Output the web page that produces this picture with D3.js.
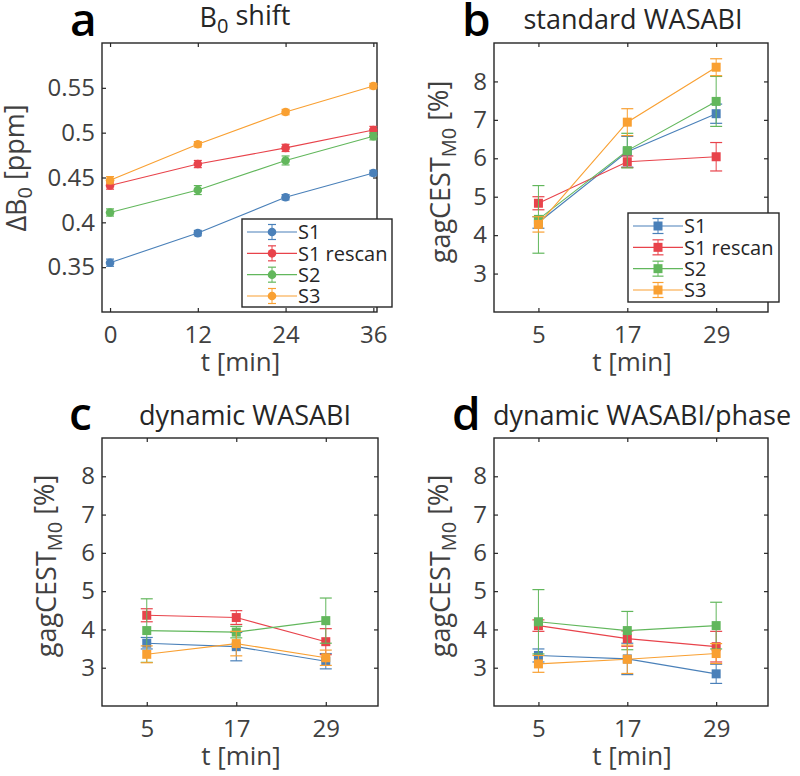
<!DOCTYPE html>
<html>
<head>
<meta charset="utf-8">
<script src="https://cdn.jsdelivr.net/npm/d3@7"></script>
<style>
body { margin: 0; background: #fff; }
text { font-family: 'Open Sans', sans-serif; }
</style>
</head>
<body>
<div class="main"></div>
<script>
var seriesNames = ['S1', 'S1 rescan', 'S2', 'S3'];
var seriesColors = ['#4a80b9', '#e8434b', '#62b75c', '#f9a032'];

// a: B0 shift
var b0Times = [0, 12, 24, 36];
var b0Ticks = ['0.35', '0.4', '0.45', '0.5', '0.55'];
var b0S1 = [0.355, 0.388, 0.428, 0.455];
var b0S1Err = [0.004, 0.003, 0.003, 0.003];
var b0Rescan = [0.441, 0.465, 0.483, 0.503];
var b0RescanErr = [0.004, 0.004, 0.004, 0.004];
var b0S2 = [0.411, 0.436, 0.469, 0.496];
var b0S2Err = [0.004, 0.005, 0.005, 0.004];
var b0S3 = [0.447, 0.487, 0.523, 0.552];
var b0S3Err = [0.004, 0.003, 0.003, 0.003];

// b, c, d: gagCEST
var cestTimes = [5, 17, 29];
var cestTicks = [3, 4, 5, 6, 7, 8];

var stdS1 = [4.33, 6.17, 7.16];
var stdS1Err = [0.15, 0.4, 0.25];
var stdRescan = [4.83, 5.91, 6.04];
var stdRescanErr = [0.17, 0.15, 0.37];
var stdS2 = [4.41, 6.2, 7.48];
var stdS2Err = [0.88, 0.45, 0.65];
var stdS3 = [4.28, 6.94, 8.37];
var stdS3Err = [0.2, 0.35, 0.22];

var dynS1 = [3.64, 3.55, 3.17];
var dynS1Err = [0.15, 0.37, 0.2];
var dynRescan = [4.37, 4.31, 3.68];
var dynRescanErr = [0.17, 0.18, 0.34];
var dynS2 = [3.97, 3.93, 4.23];
var dynS2Err = [0.83, 0.15, 0.59];
var dynS3 = [3.35, 3.63, 3.26];
var dynS3Err = [0.22, 0.32, 0.2];

var phS1 = [3.32, 3.23, 2.84];
var phS1Err = [0.17, 0.41, 0.25];
var phRescan = [4.1, 3.76, 3.55];
var phRescanErr = [0.15, 0.2, 0.4];
var phS2 = [4.2, 3.97, 4.1];
var phS2Err = [0.84, 0.5, 0.61];
var phS3 = [3.1, 3.22, 3.37];
var phS3Err = [0.22, 0.37, 0.26];

var svg = d3.select('.main')
    .append('svg')
    .attr('width', 800)
    .attr('height', 776);

svg.append('rect')
    .attr('width', 800)
    .attr('height', 776)
    .style('fill', '#fff');

function makeSeries(times, vals, errs) {
    return vals.map(function (v, i) {
        return times.map(function (t, j) {
            return { t: t, v: v[j], e: errs[i][j] };
        });
    });
}

var panels = [
    {
        letter: 'a', lx: 70, ly: 36,
        title: ['B', '0', ' shift'], tx: 245, ty: 27,
        left: 102, right: 377, top: 43, bottom: 312,
        xDomain: [-1.1, 36.5], yDomain: [0.3, 0.6],
        xTicks: b0Times, yTicks: b0Ticks.map(Number), yFmt: function (d, i) { return b0Ticks[i]; },
        ylab: ['\u0394B', '0', ' [ppm]'], ylabX: 26, ylabY: 168,
        marker: 'circle', cap: 8,
        series: makeSeries(b0Times, [b0S1, b0Rescan, b0S2, b0S3], [b0S1Err, b0RescanErr, b0S2Err, b0S3Err]),
        legend: { x: 242, y: 219, w: 150, h: 88, cap: 8 }
    },
    {
        letter: 'b', lx: 462, ly: 36,
        title: ['standard WASABI'], tx: 633, ty: 29,
        left: 494, right: 768, top: 43, bottom: 312,
        xDomain: [-1, 36], yDomain: [2, 9],
        xTicks: cestTimes, yTicks: cestTicks, yFmt: d3.format('d'),
        ylab: ['gagCEST', 'M0', ' [%]'], ylabX: 450, ylabY: 172,
        marker: 'square', cap: 12,
        series: makeSeries(cestTimes, [stdS1, stdRescan, stdS2, stdS3], [stdS1Err, stdRescanErr, stdS2Err, stdS3Err]),
        legend: { x: 628, y: 213, w: 151, h: 89, cap: 11 }
    },
    {
        letter: 'c', lx: 69, ly: 430,
        title: ['dynamic WASABI'], tx: 245, ty: 425,
        left: 102, right: 378, top: 438, bottom: 706,
        xDomain: [-1, 36], yDomain: [2, 9],
        xTicks: cestTimes, yTicks: cestTicks, yFmt: d3.format('d'),
        ylab: ['gagCEST', 'M0', ' [%]'], ylabX: 56, ylabY: 566,
        marker: 'square', cap: 12,
        series: makeSeries(cestTimes, [dynS1, dynRescan, dynS2, dynS3], [dynS1Err, dynRescanErr, dynS2Err, dynS3Err])
    },
    {
        letter: 'd', lx: 452, ly: 430,
        title: ['dynamic WASABI/phase'], tx: 642, ty: 425,
        left: 494, right: 768, top: 438, bottom: 706,
        xDomain: [-1, 36], yDomain: [2, 9],
        xTicks: cestTimes, yTicks: cestTicks, yFmt: d3.format('d'),
        ylab: ['gagCEST', 'M0', ' [%]'], ylabX: 450, ylabY: 566,
        marker: 'square', cap: 12,
        series: makeSeries(cestTimes, [phS1, phRescan, phS2, phS3], [phS1Err, phRescanErr, phS2Err, phS3Err])
    }
];

function drawMarker(sel, type, cx, cy, color) {
    if (type === 'circle') {
        sel.append('circle')
            .attr('cx', cx).attr('cy', cy).attr('r', 4.3)
            .style('fill', color);
    } else {
        sel.append('rect')
            .attr('x', cx - 4.5).attr('y', cy - 4.5)
            .attr('width', 9).attr('height', 9)
            .style('fill', color);
    }
}

function drawErr(sel, cx, y1, y2, cap, color) {
    sel.append('line')
        .attr('x1', cx).attr('x2', cx).attr('y1', y1).attr('y2', y2)
        .style('stroke', color).style('stroke-width', 1);
    [y1, y2].forEach(function (yy) {
        sel.append('line')
            .attr('x1', cx - cap / 2).attr('x2', cx + cap / 2)
            .attr('y1', yy).attr('y2', yy)
            .style('stroke', color).style('stroke-width', 1.2);
    });
}

function addSub(textSel, parts, subSize) {
    textSel.append('tspan').text(parts[0]);
    if (parts.length > 1) {
        textSel.append('tspan')
            .attr('dy', '0.3em')
            .style('font-size', subSize)
            .text(parts[1]);
        textSel.append('tspan')
            .attr('dy', '-0.3em')
            .text(parts[2]);
    }
}

panels.forEach(function (p) {
    var g = svg.append('g');
    var x = d3.scaleLinear().domain(p.xDomain).range([p.left, p.right]);
    var y = d3.scaleLinear().domain(p.yDomain).range([p.bottom, p.top]);

    // axes (ticks inside, mirrored on top/right)
    var ax = [
        { a: d3.axisBottom(x).tickValues(p.xTicks).tickSize(-4).tickPadding(14), t: [0, p.bottom] },
        { a: d3.axisTop(x).tickValues(p.xTicks).tickSize(-4).tickFormat(''), t: [0, p.top] },
        { a: d3.axisLeft(y).tickValues(p.yTicks).tickSize(-4).tickPadding(7).tickFormat(p.yFmt), t: [p.left, 0] },
        { a: d3.axisRight(y).tickValues(p.yTicks).tickSize(-4).tickFormat(''), t: [p.right, 0] }
    ];
    ax.forEach(function (o) {
        var ag = g.append('g')
            .attr('transform', 'translate(' + o.t + ')')
            .call(o.a);
        ag.select('.domain').remove();
        ag.selectAll('line').style('stroke', '#262626').style('stroke-width', 1.2);
        ag.selectAll('text')
            .style('font-family', "'Open Sans', sans-serif")
            .style('font-size', '24px')
            .style('fill', '#404040');
    });

    g.append('rect')
        .attr('x', p.left).attr('y', p.top)
        .attr('width', p.right - p.left).attr('height', p.bottom - p.top)
        .style('fill', 'none')
        .style('stroke', '#262626')
        .style('stroke-width', 1.4);

    var line = d3.line()
        .x(function (d) { return x(d.t); })
        .y(function (d) { return y(d.v); });

    p.series.forEach(function (s, i) {
        var c = seriesColors[i];
        var sg = g.append('g');
        sg.append('path')
            .attr('d', line(s))
            .style('fill', 'none')
            .style('stroke', c)
            .style('stroke-width', 1.1);
        s.forEach(function (d) {
            drawErr(sg, x(d.t), y(d.v + d.e), y(d.v - d.e), p.cap, c);
        });
        s.forEach(function (d) {
            drawMarker(sg, p.marker, x(d.t), y(d.v), c);
        });
    });

    // labels
    svg.append('text')
        .attr('x', p.lx).attr('y', p.ly)
        .style('font-size', '46px')
        .style('font-weight', 600)
        .style('fill', '#000')
        .text(p.letter);

    var tt = svg.append('text')
        .attr('x', p.tx).attr('y', p.ty)
        .attr('text-anchor', 'middle')
        .style('font-size', '27px')
        .style('fill', '#262626');
    addSub(tt, p.title, '20px');

    svg.append('text')
        .attr('x', (p.left + p.right) / 2 + 1).attr('y', p.bottom + 59)
        .attr('text-anchor', 'middle')
        .style('font-size', '26px')
        .style('fill', '#404040')
        .text('t [min]');

    var yl = svg.append('text')
        .attr('transform', 'translate(' + [p.ylabX, p.ylabY] + ') rotate(-90)')
        .attr('text-anchor', 'middle')
        .style('font-size', '27px')
        .style('fill', '#404040');
    addSub(yl, p.ylab, '20px');

    if (p.legend) {
        var L = p.legend;
        var lg = svg.append('g').attr('transform', 'translate(' + [L.x, L.y] + ')');
        lg.append('rect')
            .attr('width', L.w).attr('height', L.h)
            .style('fill', '#fff')
            .style('stroke', '#262626')
            .style('stroke-width', 1.4);
        var rowY = d3.scalePoint().domain(seriesNames).range([13, 77]);
        seriesNames.forEach(function (name, i) {
            var c = seriesColors[i];
            var ry = rowY(name);
            lg.append('line')
                .attr('x1', 5).attr('x2', 55).attr('y1', ry).attr('y2', ry)
                .style('stroke', c).style('stroke-width', 1.1);
            drawErr(lg, 30, ry - 7.5, ry + 7.5, L.cap, c);
            drawMarker(lg, p.marker, 30, ry, c);
            lg.append('text')
                .attr('x', 56).attr('y', ry)
                .attr('dy', '0.36em')
                .style('font-size', '20px')
                .style('fill', '#262626')
                .text(name);
        });
    }
});
</script>
</body>
</html>
